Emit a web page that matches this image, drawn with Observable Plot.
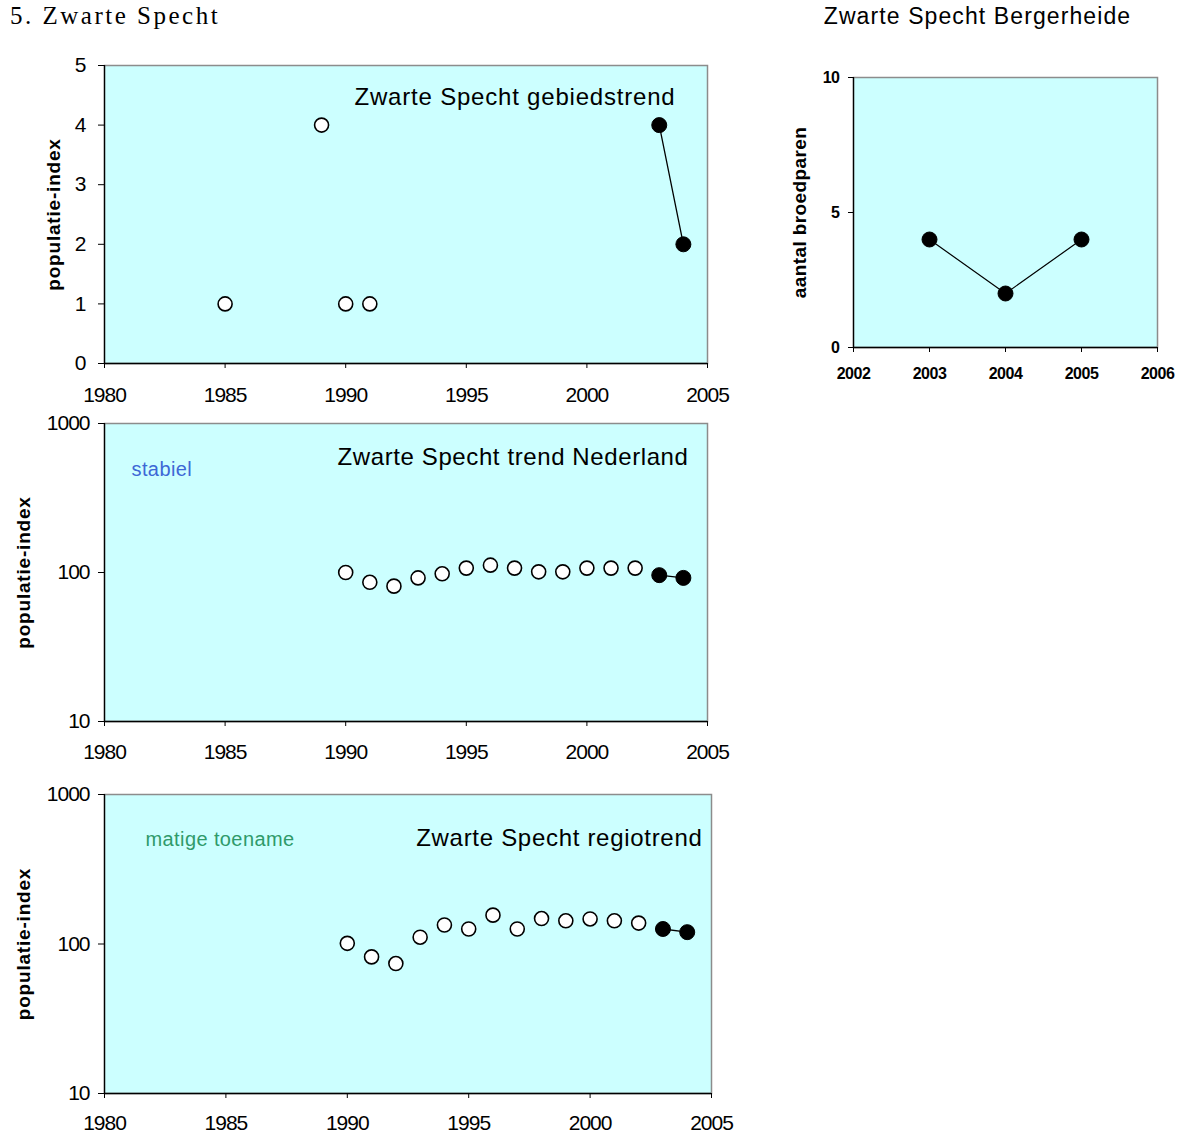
<!DOCTYPE html>
<html>
<head>
<meta charset="utf-8">
<script src="https://cdn.jsdelivr.net/npm/d3@7"></script>
<script src="https://cdn.jsdelivr.net/npm/@observablehq/plot@0.6"></script>
<style>
  html, body { margin: 0; padding: 0; background: #fff; overflow: hidden; }
  #root { position: relative; width: 1180px; height: 1137px; overflow: hidden; }
  .panel { position: absolute; }
  .panel svg { overflow: visible; display: block; }
  #heading { position: absolute; left: 10px; top: 2px; font-family: "Liberation Serif", "Times New Roman", serif; font-size: 25px; line-height: 28px; letter-spacing: 2.5px; color: #000; white-space: nowrap; }
</style>
</head>
<body>
<div id="root">
  <div id="heading">5. Zwarte Specht</div>
</div>
<script>
// ---------- data ----------
const xTicks = [1980, 1985, 1990, 1995, 2000, 2005];

// gebiedstrend (population index, linear)
const gebiedOpenYears = [1985, 1989, 1990, 1991];
const gebiedOpenIndex = [1, 4, 1, 1];
const gebiedRecentYears = [2003, 2004];
const gebiedRecentIndex = [4, 2];
const gebiedYTicks = [0, 1, 2, 3, 4, 5];

// trend Nederland (log)
const nlYears = [1990, 1991, 1992, 1993, 1994, 1995, 1996, 1997, 1998, 1999, 2000, 2001, 2002];
const nlIndex = [100, 86, 81, 92, 98, 107, 112, 107, 101, 101, 107, 107, 107];
const nlRecentYears = [2003, 2004];
const nlRecentIndex = [96, 92];

// regiotrend (log)
const regioYears = [1990, 1991, 1992, 1993, 1994, 1995, 1996, 1997, 1998, 1999, 2000, 2001, 2002];
const regioIndex = [101, 82, 74, 111, 134, 126, 156, 126, 148, 143, 147, 143, 138];
const regioRecentYears = [2003, 2004];
const regioRecentIndex = [126, 120];
const logTicks = [10, 100, 1000];

// Bergerheide (breeding pairs)
const bergYears = [2003, 2004, 2005];
const bergPairs = [4, 2, 4];
const bergXTicks = [2002, 2003, 2004, 2005, 2006];
const bergYTicks = [0, 5, 10];

// ---------- helpers ----------
const FONT = "'Liberation Sans', Arial, Helvetica, sans-serif";
const BG = "#ccffff";
const root = document.getElementById("root");

function place(svg, left, top) {
  const d = document.createElement("div");
  d.className = "panel";
  d.style.left = left + "px";
  d.style.top = top + "px";
  d.appendChild(svg);
  root.appendChild(d);
  return svg;
}

// apply letter-spacing to text elements whose content matches
function spaceText(svg, test, value) {
  svg.querySelectorAll("text").forEach(t => {
    if (test(t.textContent)) t.setAttribute("letter-spacing", value);
  });
}
const isNum = s => /^\d+$/.test(s.trim());

const toRows = (xs, ys) => xs.map((x, i) => ({x, y: ys[i]}));

function trendPlot({width, height, mL, mR, mT, mB, yType, yDomain, yTicks, yPad, xPad,
                    openRows, recentRows, title, titleDx, titleDy, titleSpacing,
                    status, statusColor, statusDx, statusDy, yLabelDx}) {
  const svg = Plot.plot({
    width, height,
    marginLeft: mL, marginRight: mR, marginTop: mT, marginBottom: mB,
    style: {fontFamily: FONT, background: "transparent", color: "#000", overflow: "visible"},
    x: {domain: [1980, 2005]},
    y: {type: yType, domain: yDomain},
    marks: [
      Plot.frame({fill: BG, stroke: "#8c8c8c", strokeWidth: 1.5}),
      Plot.ruleX([1980], {stroke: "#000", strokeWidth: 1.3}),
      Plot.ruleY([yDomain[0]], {stroke: "#000", strokeWidth: 1.3}),
      Plot.axisX({ticks: xTicks, tickFormat: d => String(d), tickSize: 5, tickPadding: xPad,
                  fontSize: 21, label: null}),
      Plot.axisY({ticks: yTicks, tickFormat: d => String(d), tickSize: 6, tickPadding: yPad,
                  fontSize: 21, label: null}),
      Plot.text(["populatie-index"], {frameAnchor: "left", rotate: -90, dx: yLabelDx,
                  fontSize: 19, fontWeight: "bold", fill: "#000", textAnchor: "middle",
                  lineAnchor: "middle"}),
      Plot.text([title], {frameAnchor: "top-right", dx: titleDx, dy: titleDy, fontSize: 24,
                  textAnchor: "end", lineAnchor: "middle", fill: "#000"}),
      ...(status ? [Plot.text([status], {frameAnchor: "top-left", dx: statusDx, dy: statusDy,
                  fontSize: 20, textAnchor: "start", lineAnchor: "middle", fill: statusColor})] : []),
      Plot.line(recentRows, {x: "x", y: "y", stroke: "#000", strokeWidth: 1.3}),
      Plot.dot(openRows, {x: "x", y: "y", r: 7, fill: "#fff", stroke: "#000", strokeWidth: 1.6}),
      Plot.dot(recentRows, {x: "x", y: "y", r: 7.5, fill: "#000", stroke: "#000", strokeWidth: 1})
    ]
  });
  spaceText(svg, isNum, "-1");
  spaceText(svg, s => s === title, titleSpacing);
  spaceText(svg, s => s === "populatie-index", "0.8");
  if (status) spaceText(svg, s => s === status, "0.4");
  return svg;
}

// ---------- chart 1: gebiedstrend ----------
place(trendPlot({
  width: 740, height: 370, mL: 104, mR: 33, mT: 15, mB: 57,
  yType: "linear", yDomain: [0, 5], yTicks: gebiedYTicks, yPad: 13, xPad: 19,
  openRows: toRows(gebiedOpenYears, gebiedOpenIndex),
  recentRows: toRows(gebiedRecentYears, gebiedRecentIndex),
  title: "Zwarte Specht gebiedstrend", titleDx: -32, titleDy: 32, titleSpacing: "0.8",
  yLabelDx: -51
}), 0, 50);

// ---------- chart 3: trend Nederland ----------
place(trendPlot({
  width: 740, height: 360, mL: 104, mR: 33, mT: 13, mB: 49,
  yType: "log", yDomain: [10, 1000], yTicks: logTicks, yPad: 9, xPad: 18,
  openRows: toRows(nlYears, nlIndex),
  recentRows: toRows(nlRecentYears, nlRecentIndex),
  title: "Zwarte Specht trend Nederland", titleDx: -19, titleDy: 34, titleSpacing: "0.6",
  status: "stabiel", statusColor: "#3d68d6", statusDx: 27, statusDy: 46,
  yLabelDx: -81
}), 0, 410);

// ---------- chart 4: regiotrend ----------
place(trendPlot({
  width: 740, height: 357, mL: 104, mR: 29, mT: 14, mB: 44,
  yType: "log", yDomain: [10, 1000], yTicks: logTicks, yPad: 9, xPad: 17,
  openRows: toRows(regioYears, regioIndex),
  recentRows: toRows(regioRecentYears, regioRecentIndex),
  title: "Zwarte Specht regiotrend", titleDx: -9, titleDy: 44, titleSpacing: "0.7",
  status: "matige toename", statusColor: "#2f9a6a", statusDx: 41, statusDy: 45,
  yLabelDx: -81
}), 0, 780);

// ---------- chart 2: Bergerheide ----------
const bergRows = toRows(bergYears, bergPairs);
const bergTitle = "Zwarte Specht Bergerheide";
const berg = Plot.plot({
  width: 420, height: 400,
  marginLeft: 93, marginRight: 23, marginTop: 77, marginBottom: 53,
  style: {fontFamily: FONT, background: "transparent", color: "#000", overflow: "visible"},
  x: {domain: [2002, 2006]},
  y: {domain: [0, 10]},
  marks: [
    Plot.frame({fill: BG, stroke: "#8c8c8c", strokeWidth: 1.5}),
    Plot.ruleX([2002], {stroke: "#000", strokeWidth: 1.3}),
    Plot.ruleY([0], {stroke: "#000", strokeWidth: 1.3}),
    Plot.axisX({ticks: bergXTicks, tickFormat: d => String(d), tickSize: 5, tickPadding: 15,
                fontSize: 16, fontWeight: "bold", label: null}),
    Plot.axisY({ticks: bergYTicks, tickFormat: d => String(d), tickSize: 5, tickPadding: 9,
                fontSize: 16, fontWeight: "bold", label: null}),
    Plot.text(["aantal broedparen"], {frameAnchor: "left", rotate: -90, dx: -54, fontSize: 19,
                fontWeight: "bold", fill: "#000", textAnchor: "middle", lineAnchor: "middle"}),
    Plot.text([bergTitle], {frameAnchor: "top", dx: -28, dy: -61, fontSize: 23,
                textAnchor: "middle", lineAnchor: "middle", fill: "#000"}),
    Plot.line(bergRows, {x: "x", y: "y", stroke: "#000", strokeWidth: 1.2}),
    Plot.dot(bergRows, {x: "x", y: "y", r: 7.5, fill: "#000", stroke: "#000", strokeWidth: 1})
  ]
});
spaceText(berg, isNum, "-0.5");
spaceText(berg, s => s === bergTitle, "1.1");
spaceText(berg, s => s === "aantal broedparen", "0.4");
place(berg, 760, 0);
</script>
</body>
</html>
